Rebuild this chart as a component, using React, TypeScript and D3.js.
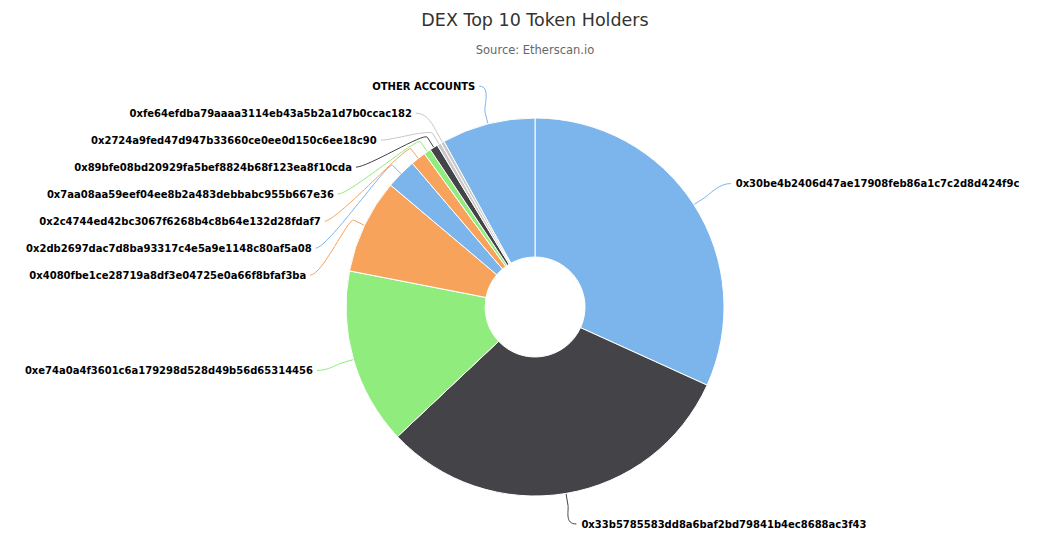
import { useEffect, useRef } from "react"
import * as d3 from "d3"

const holders = [
  "0x30be4b2406d47ae17908feb86a1c7c2d8d424f9c",
  "0x33b5785583dd8a6baf2bd79841b4ec8688ac3f43",
  "0xe74a0a4f3601c6a179298d528d49b56d65314456",
  "0x4080fbe1ce28719a8df3e04725e0a66f8bfaf3ba",
  "0x2db2697dac7d8ba93317c4e5a9e1148c80af5a08",
  "0x2c4744ed42bc3067f6268b4c8b64e132d28fdaf7",
  "0x7aa08aa59eef04ee8b2a483debbabc955b667e36",
  "0x89bfe08bd20929fa5bef8824b68f123ea8f10cda",
  "0x2724a9fed47d947b33660ce0ee0d150c6ee18c90",
  "0xfe64efdba79aaaa3114eb43a5b2a1d7b0ccac182",
  "OTHER ACCOUNTS",
]
const shares = [31.8, 31.2, 15.1, 8.1, 2.6, 1.3, 0.6, 0.7, 0.35, 0.3, 8.0]
const colours = ["#7cb5ec", "#434348", "#90ed7d", "#f7a35c", "#7cb5ec", "#f7a35c", "#90ed7d", "#434348", "#c8c8c8", "#c8c8c8", "#7cb5ec"]

const W = 1050, H = 549
const cx = 535, cy = 307, R = 189, R0 = 50, LR = 228, GAP = 27

export default function App() {
  const ref = useRef<SVGSVGElement>(null)
  useEffect(() => {
    if (!ref.current) return
    const svg = d3.select(ref.current)
    svg.selectAll("*").remove()

    svg.append("text").attr("x", W / 2 + 10).attr("y", 26).attr("text-anchor", "middle")
      .style("font-family", "DejaVu Sans").style("font-size", "17.5px").style("fill", "#333").text("DEX Top 10 Token Holders")
    svg.append("text").attr("x", W / 2 + 10).attr("y", 54).attr("text-anchor", "middle")
      .style("font-family", "DejaVu Sans").style("font-size", "11.5px").style("fill", "#666").text("Source: Etherscan.io")

    const data = holders.map((name, i) => ({ name, value: shares[i], colour: colours[i] }))
    const arcs = d3.pie<any>().value(d => d.value).sort(null)(data)
    const arc = d3.arc<any>().innerRadius(R0).outerRadius(R)
    const g = svg.append("g").attr("transform", `translate(${cx},${cy})`)

    // label layout (highcharts-ish): natural spot on a circle, push apart, keep inside the plot
    const items = arcs.map(a => {
      const mid = (a.startAngle + a.endAngle) / 2
      const y0 = -LR * Math.cos(mid)
      return { a, mid, side: Math.sin(mid) >= 0 ? 1 : -1, y0, y: y0, x: LR * Math.sin(mid), pushed: false }
    })
    const bottom = H - 25 - cy
    for (const side of [1, -1]) {
      const list = items.filter(d => d.side === side).sort((p, q) => p.y - q.y)
      for (let i = 1; i < list.length; i++) {
        if (list[i - 1].y + GAP > list[i].y) { list[i].y = list[i - 1].y + GAP; list[i].pushed = true }
      }
      for (let i = list.length - 1; i >= 0; i--) {
        const lim = i === list.length - 1 ? bottom : list[i + 1].y - GAP
        list[i].y = Math.min(list[i].y, lim)
      }
      list.forEach(d => {
        if (d.pushed && Math.abs(d.y) < LR) d.x = side * Math.sqrt(LR * LR - d.y * d.y)
      })
    }

    // connectors
    items.forEach(d => {
      const ex = Math.sin(d.mid) * R, ey = -Math.cos(d.mid) * R
      const bx = Math.sin(d.mid) * (R + 12), by = -Math.cos(d.mid) * (R + 12)
      const lx = d.x + (d.side > 0 ? 4 : 1), ly = d.y
      const p = d3.path()
      p.moveTo(lx, ly)
      p.bezierCurveTo(lx - d.side * 12, ly, bx + Math.sin(d.mid) * 6, by - Math.cos(d.mid) * 6, bx, by)
      p.lineTo(ex, ey)
      g.append("path").attr("d", p.toString()).attr("fill", "none")
        .attr("stroke", d.a.data.colour).attr("stroke-width", 1)
    })

    g.selectAll("path.slice").data(arcs).join("path").attr("class", "slice")
      .attr("d", arc).attr("fill", d => d.data.colour).attr("stroke", "#fff").attr("stroke-width", 1)

    items.forEach(d => {
      g.append("text").attr("x", d.x + (d.side > 0 ? 9 : -3)).attr("y", d.y).attr("dy", "0.35em")
        .attr("text-anchor", d.side > 0 ? "start" : "end")
        .style("font-family", "DejaVu Sans").style("font-weight", "bold").style("font-size", "10px")
        .style("fill", "#000").text(d.a.data.name)
    })
  }, [])
  return <svg ref={ref} width={W} height={H} style={{ position: "absolute", left: 0, top: 0, background: "#fff" }} />
}
